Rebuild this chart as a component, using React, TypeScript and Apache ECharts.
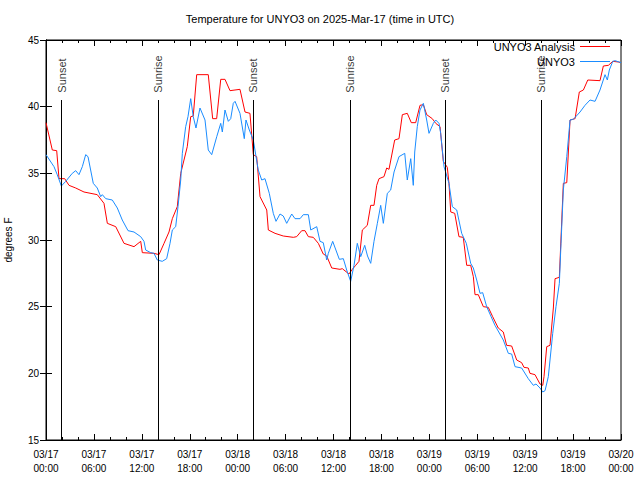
import React, { useEffect, useRef } from "react";
import * as echarts from "echarts";

const titleText = "Temperature for UNYO3 on 2025-Mar-17 (time in UTC)";
const yAxisName = "degrees F";
const seriesNames = ["UNYO3 Analysis", "UNYO3"];

// hours since 03/17 00:00 UTC
const analysisHours = [0, 0.79, 1.34, 1.63, 2.34, 2.88, 3.72, 4.76, 6.42, 7.26, 7.68, 8.73, 9.77, 11.02, 11.86, 12.06, 13.52, 14.15, 14.78, 15.4, 15.82, 16.44, 16.87, 17.69, 18.12, 18.44, 18.87, 20.32, 20.87, 21.37, 21.88, 22.41, 23.04, 24.29, 24.92, 25.54, 25.96, 26.38, 26.8, 27.64, 27.84, 28.68, 29.71, 30.97, 31.39, 32.02, 32.43, 32.85, 33.47, 34.1, 34.72, 35.15, 35.78, 36.81, 37.1, 37.94, 38.35, 38.78, 39.19, 39.61, 40.23, 40.66, 41.07, 41.41, 41.7, 42.32, 42.66, 42.95, 43.66, 44.2, 44.62, 45.24, 45.74, 46.29, 46.83, 47.25, 47.67, 48.37, 48.8, 49.34, 49.75, 50.25, 50.46, 50.68, 51.18, 51.71, 52.25, 52.68, 53.18, 53.51, 53.72, 54.13, 54.76, 55.38, 55.93, 56.63, 57.26, 57.68, 58.31, 58.94, 59.56, 59.85, 60.39, 60.6, 61.23, 61.86, 62.2, 62.36, 62.7, 63.11, 63.53, 63.74, 64.28, 64.78, 65.21, 65.62, 66.25, 66.78, 67.29, 67.84, 69.37, 69.79, 70.42, 70.97, 71.67, 72];
const analysisTemps = [38.8, 36.75, 36.7, 34.6, 34.6, 34.1, 33.9, 33.6, 33.4, 32.75, 31.25, 31.0, 29.75, 29.5, 29.9, 29.05, 29.0, 28.9, 29.75, 30.6, 31.6, 32.5, 35.0, 37.0, 39.25, 39.3, 42.4, 42.4, 39.1, 39.1, 42.05, 42.05, 41.2, 41.3, 39.6, 39.5, 36.4, 36.25, 33.25, 32.25, 30.75, 30.5, 30.3, 30.2, 30.25, 30.7, 30.7, 30.25, 30.2, 29.75, 28.95, 28.8, 27.9, 27.8, 27.85, 27.45, 27.8, 28.1, 28.4, 30.75, 31.1, 32.6, 32.6, 34.1, 34.6, 34.75, 35.4, 35.3, 37.5, 37.6, 39.4, 39.5, 38.8, 38.8, 40.1, 40.15, 39.4, 39.1, 38.75, 38.5, 35.9, 35.45, 34.25, 32.1, 32.0, 30.25, 30.2, 28.1, 28.1, 27.25, 25.9, 25.9, 25.0, 24.95, 24.25, 23.4, 23.1, 22.1, 22.05, 21.0, 20.8, 20.45, 20.4, 20.0, 19.9, 19.2, 19.1, 19.75, 22.0, 22.1, 24.9, 27.1, 27.2, 34.25, 34.3, 39.0, 39.1, 41.1, 41.25, 42.0, 41.95, 43.05, 43.1, 43.4, 43.35, 43.3];

const stationHours = [0, 1.0, 1.41, 1.92, 2.47, 3.29, 3.72, 4.13, 4.55, 4.97, 5.26, 5.92, 6.42, 6.85, 7.05, 7.48, 8.3, 8.93, 9.55, 10.27, 11.02, 11.86, 12.27, 12.48, 13.11, 13.52, 13.94, 14.56, 15.11, 15.53, 15.82, 16.24, 16.53, 16.87, 17.07, 17.49, 17.78, 18.12, 18.44, 18.78, 19.28, 19.91, 20.32, 20.75, 21.38, 21.88, 22.08, 22.41, 22.83, 23.13, 23.45, 23.67, 24.29, 24.83, 25.04, 25.46, 25.96, 26.3, 26.58, 27.01, 27.42, 27.96, 28.46, 28.8, 29.3, 29.71, 30.14, 30.77, 31.18, 31.81, 32.22, 32.85, 33.15, 33.9, 34.31, 34.72, 35.15, 35.35, 35.9, 36.73, 37.23, 37.65, 38.15, 38.57, 38.98, 39.41, 39.91, 40.26, 40.66, 41.07, 41.49, 41.91, 42.24, 42.74, 43.16, 43.58, 44.2, 44.92, 45.24, 45.67, 45.99, 46.17, 46.49, 46.83, 47.25, 47.67, 47.96, 48.5, 48.8, 49.21, 49.42, 49.84, 50.46, 50.88, 51.43, 52.05, 52.63, 53.18, 53.51, 53.93, 54.35, 54.68, 55.18, 56.22, 57.26, 57.89, 58.31, 58.73, 59.56, 60.39, 61.02, 61.36, 61.86, 62.2, 62.49, 62.9, 63.45, 63.86, 64.28, 64.49, 64.78, 65.21, 65.62, 66.03, 66.87, 67.49, 68.12, 68.75, 69.37, 70.0, 70.29, 70.54, 70.97, 71.26, 72];
const stationTemps = [36.4, 35.5, 34.9, 34.05, 34.4, 35.0, 35.2, 34.9, 35.5, 36.4, 36.25, 34.25, 33.9, 33.25, 33.4, 33.1, 33.0, 32.4, 31.5, 30.7, 30.6, 30.25, 29.9, 29.25, 29.05, 29.0, 28.5, 28.4, 28.6, 29.75, 30.75, 31.0, 32.5, 34.5, 36.5, 38.5, 39.25, 40.6, 39.25, 38.4, 39.9, 39.0, 36.75, 36.4, 37.75, 38.75, 38.1, 39.75, 38.9, 39.1, 40.25, 40.4, 39.5, 37.6, 39.0, 38.25, 37.5, 36.25, 35.25, 34.5, 34.6, 33.5, 32.0, 31.4, 31.95, 31.8, 31.25, 31.95, 31.6, 31.6, 31.9, 31.9, 30.75, 31.0, 29.9, 29.8, 28.5, 29.0, 29.9, 28.55, 28.6, 27.75, 26.9, 28.1, 29.75, 28.75, 29.6, 28.8, 28.25, 29.9, 31.25, 32.6, 31.25, 33.5, 33.75, 35.1, 36.25, 36.5, 34.5, 36.1, 34.1, 36.6, 38.5, 39.75, 40.25, 39.0, 38.0, 38.75, 39.0, 38.75, 38.0, 35.5, 34.25, 32.5, 32.25, 30.5, 29.75, 28.25, 27.9, 27.0, 26.0, 26.05, 25.0, 23.6, 22.5, 21.5, 21.45, 20.5, 20.4, 19.6, 19.1, 19.2, 18.9, 18.6, 18.7, 19.75, 23.0, 25.0, 26.75, 29.75, 33.75, 36.25, 39.0, 39.05, 39.6, 40.1, 40.5, 40.4, 41.25, 42.4, 42.0, 42.75, 43.4, 43.45, 43.3];

const sunEventHours = [1.95, 14.02, 25.96, 38.06, 50.0, 61.98];
const sunEventNames = ["Sunset", "Sunrise", "Sunset", "Sunrise", "Sunset", "Sunrise"];
const sunLineTop = 40.5;
const sunLabelBase = 41.05;

const FONT = "Liberation Sans";

function fmtX(v: number) {
  const day = 17 + Math.floor(v / 24);
  const hr = v % 24;
  return "03/" + String(day) + "\n" + String(hr).padStart(2, "0") + ":00";
}

export default function App() {
  const ref = useRef<HTMLDivElement>(null);
  useEffect(() => {
    if (!ref.current) return;
    const chart = echarts.init(ref.current, null, { renderer: "svg" });
    const xBase = {
      type: "value" as const,
      min: 0,
      max: 72,
      interval: 6,
      splitLine: { show: false },
      axisLine: { show: true, lineStyle: { color: "#000", width: 1 } },
      axisTick: { show: true, inside: true, length: 6, lineStyle: { color: "#000" } },
      minorTick: { show: true, splitNumber: 3, length: 3, lineStyle: { color: "#000" } },
    };
    const yBase = {
      type: "value" as const,
      min: 15,
      max: 45,
      interval: 5,
      splitLine: { show: false },
      axisLine: { show: true, lineStyle: { color: "#000", width: 1 } },
      axisTick: { show: true, inside: true, length: 6, lineStyle: { color: "#000" } },
    };
    const legendBase = {
      right: 30,
      align: "right",
      icon: "rect",
      itemWidth: 30,
      itemHeight: 1,
      padding: 0,
      textStyle: { fontFamily: FONT, fontSize: 11, color: "#000" },
    };
    const option: any = {
      animation: false,
      backgroundColor: "#fff",
      title: {
        text: titleText,
        left: "center",
        top: 8,
        textStyle: { fontFamily: FONT, fontSize: 11, fontWeight: "normal", color: "#000" },
      },
      grid: {
        left: 46,
        right: 19,
        top: 40,
        bottom: 40,
        show: true,
        borderColor: "#000",
        borderWidth: 1,
        outerBoundsMode: "none",
        containLabel: false,
      },
      legend: [
        { ...legendBase, data: [seriesNames[0]], top: 41 },
        { ...legendBase, data: [seriesNames[1]], top: 56 },
      ],
      xAxis: [
        {
          ...xBase,
          position: "bottom",
          axisLabel: {
            formatter: fmtX,
            fontFamily: FONT,
            fontSize: 10,
            color: "#000",
            lineHeight: 14,
            margin: 7,
          },
        },
        { ...xBase, position: "top", axisLabel: { show: false } },
      ],
      yAxis: [
        {
          ...yBase,
          position: "left",
          name: yAxisName,
          nameLocation: "middle",
          nameGap: 33,
          nameTextStyle: { fontFamily: FONT, fontSize: 10, color: "#000" },
          axisLabel: { fontFamily: FONT, fontSize: 10, color: "#000", margin: 7 },
        },
        { ...yBase, position: "right", axisLabel: { show: false } },
      ],
      series: [
        {
          name: seriesNames[0],
          type: "line",
          symbol: "none",
          data: analysisHours.map((h, i) => [h, analysisTemps[i]]),
          lineStyle: { color: "#ff0000", width: 1 },
          itemStyle: { color: "#ff0000" },
          z: 3,
        },
        {
          name: seriesNames[1],
          type: "line",
          symbol: "none",
          data: stationHours.map((h, i) => [h, stationTemps[i]]),
          lineStyle: { color: "#1a8cff", width: 1 },
          itemStyle: { color: "#1a8cff" },
          z: 4,
        },
        {
          name: "sunlines",
          type: "line",
          data: [],
          markLine: {
            symbol: ["none", "none"],
            silent: true,
            label: { show: false },
            lineStyle: { color: "#000", width: 1, type: "solid" },
            data: sunEventHours.map((h) => [{ coord: [h, 15] }, { coord: [h, sunLineTop] }]),
          },
          z: 2,
        },
        {
          name: "sunlabels",
          type: "scatter",
          symbolSize: 1,
          itemStyle: { color: "rgba(0,0,0,0)" },
          data: sunEventHours.map((h, i) => ({ value: [h, sunLabelBase], name: sunEventNames[i] })),
          label: {
            show: true,
            position: "inside",
            rotate: 90,
            align: "left",
            verticalAlign: "middle",
            formatter: (p: any) => p.name,
            fontFamily: FONT,
            fontSize: 11,
            color: "#000",
          },
          z: 5,
        },
      ],
    };
    chart.setOption(option);
    return () => chart.dispose();
  }, []);
  return <div ref={ref} style={{ width: 640, height: 480, position: "absolute", left: 0, top: 0 }} />;
}
